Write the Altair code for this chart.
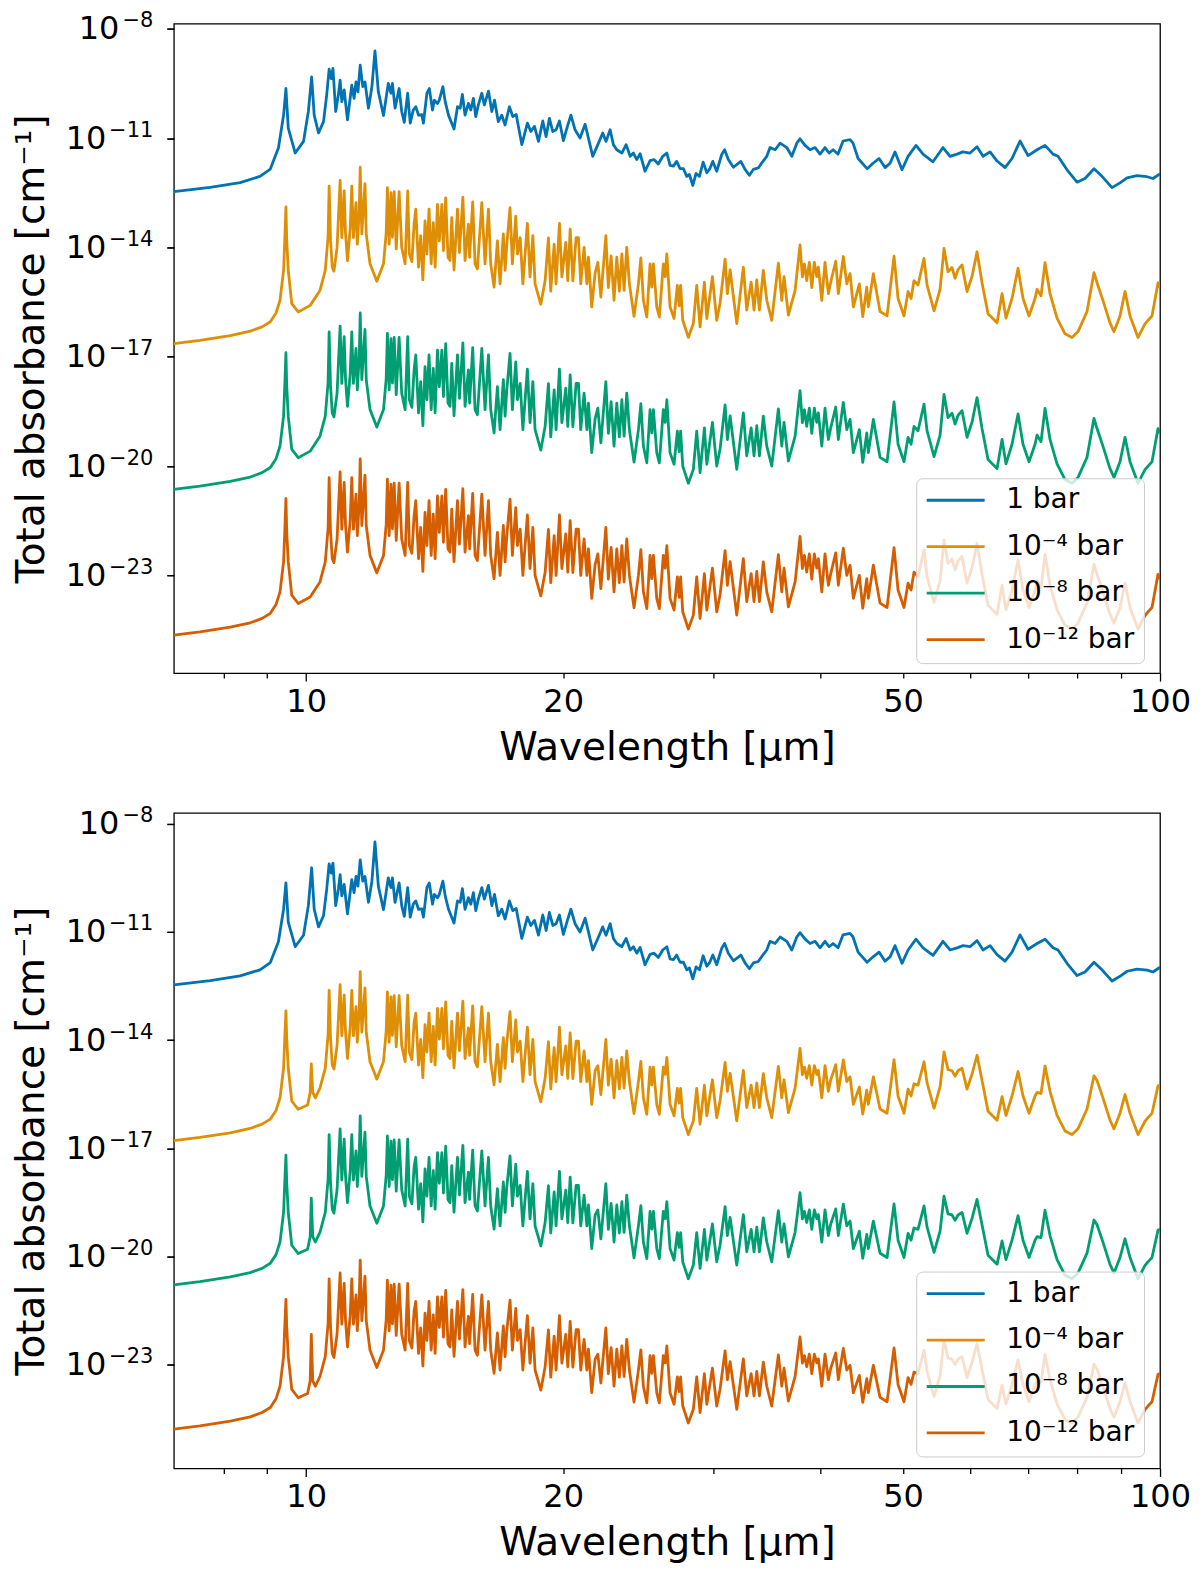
import altair as alt
import pandas as pd

# wavelength grid of the 1 bar curve [um] (same sampling in both panels)
WL_BLUE = [
    7.0, 7.72, 8.37, 8.83, 9.08, 9.28, 9.41, 9.47, 9.53, 9.71,
    9.93, 10.06, 10.15, 10.22, 10.34, 10.48, 10.57, 10.64, 10.70, 10.75,
    10.83, 10.91, 10.96, 11.01, 11.08, 11.18, 11.31, 11.38, 11.44, 11.50,
    11.57, 11.65, 11.72, 11.83, 11.94, 12.04, 12.15, 12.32, 12.48, 12.57,
    12.62, 12.71, 12.85, 12.94, 13.03, 13.15, 13.24, 13.35, 13.44, 13.54,
    13.66, 13.72, 13.85, 13.94, 14.06, 14.13, 14.25, 14.32, 14.46, 14.55,
    14.68, 14.90, 15.04, 15.15, 15.24, 15.35, 15.49, 15.59, 15.70, 15.80,
    15.91, 16.06, 16.17, 16.35, 16.50, 16.62, 16.79, 16.95, 17.10, 17.30,
    17.46, 17.62, 17.89, 18.16, 18.33, 18.51, 18.71, 18.93, 19.10, 19.27,
    19.45, 19.62, 19.80, 20.01, 20.23, 20.42, 20.65, 20.93, 21.22, 21.41,
    21.66, 21.96, 22.25, 22.45, 22.70, 22.90, 23.11, 23.43, 23.70, 23.96,
    24.17, 24.39, 24.61, 24.94, 25.28, 25.55, 25.85, 26.16, 26.45, 26.68,
    26.92, 27.16, 27.41, 27.66, 27.91, 28.11, 28.37, 28.62, 28.88, 29.17,
    29.46, 29.67, 29.94, 30.26, 30.67, 30.91, 31.22, 31.65, 32.29, 32.66,
    33.04, 33.40, 33.85, 34.17, 34.63, 34.94, 35.42, 35.90, 36.55, 37.05,
    37.55, 37.88, 38.40, 38.92, 39.45, 39.98, 40.52, 40.97, 41.41, 41.97,
    42.54, 43.35, 43.70, 44.30, 45.39, 46.12, 46.88, 47.64, 48.29, 48.94,
    49.87, 50.69, 51.79, 52.78, 54.22, 55.70, 56.77, 57.85, 58.79, 59.91,
    61.05, 62.05, 63.23, 64.44, 65.84, 67.09, 68.56, 70.05, 71.78, 73.34,
    74.93, 75.95, 77.82, 79.95, 81.69, 83.69, 85.52, 87.86, 89.77, 91.49,
    93.99, 96.56, 98.12, 100.0,
]

# log10 of total absorbance [cm^-1] at 1 bar
BLUE_TOP = [
    -12.47, -12.35, -12.22, -12.05, -11.85, -11.27, -10.37, -9.64, -10.73, -11.41,
    -11.09, -10.27, -9.32, -10.37, -10.86, -10.55, -9.82, -9.11, -9.37, -9.09,
    -10.27, -9.80, -9.41, -10.00, -9.68, -10.50, -9.55, -9.91, -9.46, -9.73,
    -9.00, -9.59, -9.46, -10.18, -9.60, -8.61, -9.73, -10.38, -9.50, -9.77,
    -9.50, -10.18, -9.64, -10.27, -10.57, -9.77, -10.59, -10.23, -10.14, -10.37,
    -10.36, -10.59, -9.77, -9.64, -10.23, -9.96, -10.05, -9.96, -9.59, -10.00,
    -10.37, -10.75, -10.14, -10.18, -9.80, -10.37, -10.05, -10.23, -9.91, -10.41,
    -10.09, -9.77, -10.09, -9.71, -10.27, -9.96, -10.55, -10.37, -10.64, -10.14,
    -10.41, -10.35, -11.18, -10.59, -10.82, -10.68, -11.09, -10.53, -10.96, -10.46,
    -10.82, -10.77, -10.53, -11.07, -10.68, -10.37, -10.77, -11.00, -10.62, -11.00,
    -11.50, -11.18, -10.86, -11.09, -10.77, -11.18, -11.32, -11.41, -11.18, -11.50,
    -11.41, -11.59, -11.43, -11.91, -11.62, -11.59, -11.71, -11.50, -11.41, -11.75,
    -11.77, -11.64, -11.84, -11.84, -12.05, -12.00, -12.30, -11.97, -12.05, -11.66,
    -11.95, -11.86, -11.64, -11.91, -11.45, -11.32, -11.59, -11.80, -11.64, -11.86,
    -12.02, -11.86, -11.82, -11.68, -11.50, -11.26, -11.32, -11.14, -11.26, -11.50,
    -11.14, -11.02, -11.20, -11.32, -11.26, -11.44, -11.26, -11.41, -11.32, -11.44,
    -11.08, -11.04, -11.14, -11.56, -11.84, -11.69, -11.56, -11.81, -11.69, -11.38,
    -11.87, -11.50, -11.20, -11.44, -11.65, -11.26, -11.50, -11.44, -11.38, -11.41,
    -11.24, -11.50, -11.38, -11.63, -11.81, -11.56, -11.08, -11.48, -11.32, -11.20,
    -11.44, -11.50, -11.87, -12.21, -12.11, -11.84, -12.05, -12.36, -12.23, -12.09,
    -12.03, -12.06, -12.11, -11.98,
]
BLUE_BOT = [
    -12.47, -12.35, -12.22, -12.05, -11.85, -11.27, -10.37, -9.64, -10.73, -11.41,
    -11.09, -10.27, -9.22, -10.37, -10.86, -10.55, -9.82, -9.11, -9.37, -9.09,
    -10.27, -9.80, -9.41, -10.00, -9.68, -10.50, -9.55, -9.91, -9.46, -9.73,
    -9.00, -9.59, -9.46, -10.18, -9.60, -8.50, -9.73, -10.38, -9.50, -9.77,
    -9.50, -10.18, -9.64, -10.27, -10.57, -9.77, -10.59, -10.23, -10.14, -10.37,
    -10.36, -10.59, -9.77, -9.64, -10.23, -9.96, -10.05, -9.96, -9.59, -10.00,
    -10.37, -10.75, -10.14, -10.18, -9.80, -10.37, -10.05, -10.23, -9.91, -10.41,
    -10.09, -9.77, -10.09, -9.71, -10.27, -9.96, -10.55, -10.37, -10.64, -10.14,
    -10.41, -10.35, -11.18, -10.59, -10.82, -10.68, -11.09, -10.53, -10.96, -10.46,
    -10.82, -10.77, -10.53, -11.07, -10.68, -10.37, -10.77, -11.00, -10.62, -11.00,
    -11.50, -11.18, -10.86, -11.09, -10.77, -11.18, -11.32, -11.41, -11.18, -11.50,
    -11.41, -11.59, -11.43, -11.91, -11.62, -11.59, -11.71, -11.50, -11.41, -11.75,
    -11.77, -11.64, -11.84, -11.84, -12.05, -12.00, -12.30, -11.97, -12.05, -11.66,
    -11.95, -11.86, -11.64, -11.91, -11.45, -11.32, -11.59, -11.80, -11.64, -11.86,
    -12.02, -11.86, -11.82, -11.68, -11.50, -11.26, -11.32, -11.14, -11.26, -11.50,
    -11.14, -11.02, -11.20, -11.32, -11.26, -11.44, -11.26, -11.41, -11.32, -11.44,
    -11.08, -11.04, -11.14, -11.56, -11.84, -11.69, -11.56, -11.81, -11.69, -11.38,
    -11.87, -11.50, -11.20, -11.44, -11.65, -11.26, -11.50, -11.44, -11.38, -11.41,
    -11.24, -11.50, -11.38, -11.63, -11.81, -11.56, -11.08, -11.48, -11.32, -11.20,
    -11.44, -11.50, -11.87, -12.21, -12.11, -11.84, -12.05, -12.36, -12.23, -12.09,
    -12.03, -12.06, -12.11, -11.98,
]

# wavelength grid of the low pressure curves, upper panel
WL_TOP = [
    7.00, 7.51, 8.15, 8.60, 8.88, 9.08, 9.22, 9.32, 9.41, 9.44,
    9.47, 9.49, 9.53, 9.62, 9.79, 10.11, 10.38, 10.53, 10.61, 10.64,
    10.68, 10.73, 10.78, 10.87, 10.96, 11.01, 11.08, 11.12, 11.18, 11.26,
    11.31, 11.36, 11.44, 11.48, 11.54, 11.57, 11.62, 11.72, 11.76, 11.88,
    12.10, 12.32, 12.41, 12.45, 12.51, 12.57, 12.62, 12.68, 12.75, 12.85,
    12.94, 13.06, 13.15, 13.21, 13.30, 13.38, 13.44, 13.54, 13.62, 13.70,
    13.78, 13.85, 13.93, 14.01, 14.09, 14.16, 14.25, 14.32, 14.42, 14.48,
    14.57, 14.66, 14.74, 14.81, 14.90, 15.04, 15.12, 15.26, 15.35, 15.49,
    15.54, 15.67, 15.77, 15.87, 16.06, 16.20, 16.35, 16.45, 16.60, 16.75,
    16.87, 17.02, 17.10, 17.18, 17.33, 17.44, 17.60, 17.68, 17.81, 17.94,
    18.16, 18.29, 18.43, 18.54, 18.83, 19.05, 19.22, 19.34, 19.52, 19.62,
    19.80, 19.93, 20.14, 20.25, 20.38, 20.53, 20.71, 20.84, 20.97, 21.16,
    21.32, 21.41, 21.60, 21.80, 21.96, 22.14, 22.44, 22.59, 22.76, 22.94,
    23.11, 23.27, 23.43, 23.57, 23.74, 23.91, 24.21, 24.50, 24.66, 24.83,
    25.06, 25.28, 25.40, 25.51, 25.74, 25.92, 26.20, 26.33, 26.45, 26.68,
    26.97, 27.21, 27.34, 27.45, 27.61, 28.03, 28.41, 28.67, 28.93, 29.27,
    29.46, 29.91, 30.26, 30.53, 30.95, 31.14, 31.37, 31.94, 32.51, 32.81,
    33.20, 33.46, 33.71, 33.95, 34.31, 34.63, 35.10, 35.73, 36.06, 36.28,
    36.71, 37.38, 37.88, 38.12, 38.33, 38.57, 38.84, 39.10, 39.37, 39.63,
    39.80, 40.17, 40.52, 40.89, 41.15, 41.71, 42.00, 42.57, 42.97, 43.35,
    43.74, 44.45, 44.86, 45.35, 45.54, 46.16, 47.00, 47.90, 48.81, 49.34,
    50.14, 50.69, 51.10, 51.51, 52.07, 52.92, 53.35, 54.37, 55.26, 55.85,
    56.46, 57.07, 57.54, 58.00, 58.63, 59.43, 60.24, 61.05, 61.88, 62.89,
    64.44, 65.31, 66.01, 67.09, 68.19, 69.11, 70.24, 71.39, 71.78, 72.55,
    73.34, 74.33, 75.75, 77.40, 78.87, 80.16, 82.13, 83.69, 84.38, 85.75,
    87.38, 88.33, 89.77, 90.99, 92.23, 94.24, 96.03, 96.81, 97.86, 99.46,
    100.0,
]
ORANGE_TOP = [
    -16.64, -16.55, -16.42, -16.30, -16.18, -16.04, -15.80, -15.45, -14.63, -13.80,
    -12.89, -13.80, -14.63, -15.54, -15.77, -15.59, -15.18, -14.63, -13.70, -12.32,
    -13.80, -14.54, -14.65, -14.00, -12.16, -13.73, -12.45, -13.60, -14.36, -13.50,
    -12.32, -13.73, -12.77, -13.91, -13.00, -11.80, -13.63, -12.25, -13.63, -14.45,
    -14.93, -14.45, -13.60, -12.36, -13.91, -12.50, -13.72, -12.47, -14.04, -12.47,
    -14.00, -14.45, -12.45, -14.18, -14.39, -13.36, -12.95, -14.54, -13.68, -14.89,
    -13.27, -14.18, -12.95, -14.45, -13.32, -14.54, -12.82, -13.82, -12.82, -14.09,
    -12.64, -14.27, -14.36, -13.18, -14.62, -12.95, -14.14, -12.62, -14.36, -13.36,
    -14.27, -12.75, -14.45, -14.59, -12.77, -14.45, -12.95, -14.45, -15.09, -13.82,
    -15.00, -13.63, -14.63, -13.91, -12.91, -14.45, -13.14, -14.18, -13.73, -15.00,
    -13.34, -14.81, -13.68, -15.00, -15.56, -14.91, -13.74, -15.20, -13.91, -15.00,
    -13.34, -14.81, -13.86, -14.91, -13.50, -14.92, -13.73, -13.73, -15.00, -14.00,
    -15.00, -14.27, -15.63, -14.70, -14.41, -15.36, -13.68, -15.10, -14.23, -15.45,
    -14.27, -15.20, -14.18, -15.18, -14.00, -15.00, -15.89, -15.00, -14.29, -15.45,
    -15.91, -14.45, -15.09, -14.45, -15.63, -15.91, -14.45, -14.80, -14.18, -15.63,
    -15.95, -15.04, -15.60, -15.04, -16.00, -16.47, -16.09, -15.04, -16.18, -14.95,
    -15.95, -14.80, -16.00, -15.54, -14.32, -15.27, -14.62, -16.09, -14.54, -15.72,
    -14.95, -15.72, -14.89, -15.72, -14.63, -15.45, -16.00, -14.43, -15.45, -14.80,
    -15.86, -15.18, -13.93, -14.81, -14.45, -14.91, -14.41, -15.10, -14.41, -14.80,
    -14.54, -15.45, -14.41, -15.27, -14.95, -14.38, -15.27, -14.25, -15.00, -14.72,
    -15.63, -15.00, -15.90, -15.09, -15.63, -14.72, -15.76, -15.88, -14.24, -15.40,
    -15.88, -15.21, -15.40, -14.91, -15.03, -14.30, -15.03, -15.74, -15.15, -14.03,
    -14.67, -14.55, -14.85, -14.61, -14.48, -15.21, -14.79, -14.12, -14.97, -15.82,
    -16.07, -15.27, -15.94, -15.40, -14.57, -15.40, -15.88, -15.40, -15.15, -15.33,
    -14.42, -15.27, -15.94, -16.37, -16.47, -16.31, -15.76, -14.69, -14.97, -15.46,
    -16.07, -16.31, -15.88, -15.21, -15.88, -16.47, -16.10, -16.00, -15.88, -14.97,
    -15.10,
]
GREEN_TOP = [
    -20.64, -20.55, -20.42, -20.30, -20.18, -20.04, -19.80, -19.45, -18.63, -17.80,
    -16.89, -17.80, -18.63, -19.54, -19.77, -19.59, -19.18, -18.63, -17.70, -16.32,
    -17.80, -18.54, -18.65, -18.00, -16.16, -17.73, -16.45, -17.60, -18.36, -17.50,
    -16.32, -17.73, -16.77, -17.91, -17.00, -15.80, -17.63, -16.25, -17.63, -18.45,
    -18.93, -18.45, -17.60, -16.36, -17.91, -16.50, -17.72, -16.47, -18.04, -16.47,
    -18.00, -18.45, -16.45, -18.18, -18.39, -17.36, -16.95, -18.54, -17.68, -18.89,
    -17.27, -18.18, -16.95, -18.45, -17.32, -18.54, -16.82, -17.82, -16.82, -18.09,
    -16.64, -18.27, -18.36, -17.18, -18.62, -16.95, -18.14, -16.62, -18.36, -17.36,
    -18.27, -16.75, -18.45, -18.59, -16.77, -18.45, -16.95, -18.45, -19.09, -17.82,
    -19.00, -17.63, -18.63, -17.91, -16.91, -18.45, -17.14, -18.18, -17.73, -19.00,
    -17.34, -18.81, -17.68, -19.00, -19.56, -18.91, -17.74, -19.20, -17.91, -19.00,
    -17.34, -18.81, -17.86, -18.91, -17.50, -18.92, -17.73, -17.73, -19.00, -18.00,
    -19.00, -18.27, -19.63, -18.70, -18.41, -19.36, -17.68, -19.10, -18.23, -19.45,
    -18.27, -19.20, -18.18, -19.18, -18.00, -19.00, -19.89, -19.00, -18.29, -19.45,
    -19.91, -18.45, -19.09, -18.45, -19.63, -19.91, -18.45, -18.80, -18.18, -19.63,
    -19.95, -19.04, -19.60, -19.04, -20.00, -20.47, -20.09, -19.04, -20.18, -18.95,
    -19.95, -18.80, -20.00, -19.54, -18.32, -19.27, -18.62, -20.09, -18.54, -19.72,
    -18.95, -19.72, -18.89, -19.72, -18.63, -19.45, -20.00, -18.43, -19.45, -18.80,
    -19.86, -19.18, -17.93, -18.81, -18.45, -18.91, -18.41, -19.10, -18.41, -18.80,
    -18.54, -19.45, -18.41, -19.27, -18.95, -18.38, -19.27, -18.25, -19.00, -18.72,
    -19.63, -19.00, -19.90, -19.09, -19.63, -18.72, -19.76, -19.88, -18.24, -19.40,
    -19.88, -19.21, -19.40, -18.91, -19.03, -18.30, -19.03, -19.74, -19.15, -18.03,
    -18.67, -18.55, -18.85, -18.61, -18.48, -19.21, -18.79, -18.12, -18.97, -19.82,
    -20.07, -19.27, -19.94, -19.40, -18.57, -19.40, -19.88, -19.40, -19.15, -19.33,
    -18.42, -19.27, -19.94, -20.37, -20.47, -20.31, -19.76, -18.69, -18.97, -19.46,
    -20.07, -20.31, -19.88, -19.21, -19.88, -20.47, -20.10, -20.00, -19.88, -18.97,
    -19.10,
]
RED_TOP = [
    -24.64, -24.55, -24.42, -24.30, -24.18, -24.04, -23.80, -23.45, -22.63, -21.80,
    -20.89, -21.80, -22.63, -23.54, -23.77, -23.59, -23.18, -22.63, -21.70, -20.32,
    -21.80, -22.54, -22.65, -22.00, -20.16, -21.73, -20.45, -21.60, -22.36, -21.50,
    -20.32, -21.73, -20.77, -21.91, -21.00, -19.80, -21.63, -20.25, -21.63, -22.45,
    -22.93, -22.45, -21.60, -20.36, -21.91, -20.50, -21.72, -20.47, -22.04, -20.47,
    -22.00, -22.45, -20.45, -22.18, -22.39, -21.36, -20.95, -22.54, -21.68, -22.89,
    -21.27, -22.18, -20.95, -22.45, -21.32, -22.54, -20.82, -21.82, -20.82, -22.09,
    -20.64, -22.27, -22.36, -21.18, -22.62, -20.95, -22.14, -20.62, -22.36, -21.36,
    -22.27, -20.75, -22.45, -22.59, -20.77, -22.45, -20.95, -22.45, -23.09, -21.82,
    -23.00, -21.63, -22.63, -21.91, -20.91, -22.45, -21.14, -22.18, -21.73, -23.00,
    -21.34, -22.81, -21.68, -23.00, -23.56, -22.91, -21.74, -23.20, -21.91, -23.00,
    -21.34, -22.81, -21.86, -22.91, -21.50, -22.92, -21.73, -21.73, -23.00, -22.00,
    -23.00, -22.27, -23.63, -22.70, -22.41, -23.36, -21.68, -23.10, -22.23, -23.45,
    -22.27, -23.20, -22.18, -23.18, -22.00, -23.00, -23.89, -23.00, -22.29, -23.45,
    -23.91, -22.45, -23.09, -22.45, -23.63, -23.91, -22.45, -22.80, -22.18, -23.63,
    -23.95, -23.04, -23.60, -23.04, -24.00, -24.47, -24.09, -23.04, -24.18, -22.95,
    -23.95, -22.80, -24.00, -23.54, -22.32, -23.27, -22.62, -24.09, -22.54, -23.72,
    -22.95, -23.72, -22.89, -23.72, -22.63, -23.45, -24.00, -22.43, -23.45, -22.80,
    -23.86, -23.18, -21.93, -22.81, -22.45, -22.91, -22.41, -23.10, -22.41, -22.80,
    -22.54, -23.45, -22.41, -23.27, -22.95, -22.38, -23.27, -22.25, -23.00, -22.72,
    -23.63, -23.00, -23.90, -23.09, -23.63, -22.72, -23.76, -23.88, -22.24, -23.40,
    -23.88, -23.21, -23.40, -22.91, -23.03, -22.30, -23.03, -23.74, -23.15, -22.03,
    -22.67, -22.55, -22.85, -22.61, -22.48, -23.21, -22.79, -22.12, -22.97, -23.82,
    -24.07, -23.27, -23.94, -23.40, -22.57, -23.40, -23.88, -23.40, -23.15, -23.33,
    -22.42, -23.27, -23.94, -24.37, -24.47, -24.31, -23.76, -22.69, -22.97, -23.46,
    -24.07, -24.31, -23.88, -23.21, -23.88, -24.47, -24.10, -24.00, -23.88, -22.97,
    -23.10,
]

# lower panel: same sampling plus one weak extra line near 10.1 um
WL_BOT = [
    7.00, 7.51, 8.15, 8.60, 8.88, 9.08, 9.22, 9.32, 9.41, 9.44,
    9.47, 9.49, 9.53, 9.62, 9.79, 10.04, 10.11, 10.14, 10.18, 10.25,
    10.38, 10.53, 10.61, 10.64,
    10.68, 10.73, 10.78, 10.87, 10.96, 11.01, 11.08, 11.12, 11.18, 11.26,
    11.31, 11.36, 11.44, 11.48, 11.54, 11.57, 11.62, 11.72, 11.76, 11.88,
    12.10, 12.32, 12.41, 12.45, 12.51, 12.57, 12.62, 12.68, 12.75, 12.85,
    12.94, 13.06, 13.15, 13.21, 13.30, 13.38, 13.44, 13.54, 13.62, 13.70,
    13.78, 13.85, 13.93, 14.01, 14.09, 14.16, 14.25, 14.32, 14.42, 14.48,
    14.57, 14.66, 14.74, 14.81, 14.90, 15.04, 15.12, 15.26, 15.35, 15.49,
    15.54, 15.67, 15.77, 15.87, 16.06, 16.20, 16.35, 16.45, 16.60, 16.75,
    16.87, 17.02, 17.10, 17.18, 17.33, 17.44, 17.60, 17.68, 17.81, 17.94,
    18.16, 18.29, 18.43, 18.54, 18.83, 19.05, 19.22, 19.34, 19.52, 19.62,
    19.80, 19.93, 20.14, 20.25, 20.38, 20.53, 20.71, 20.84, 20.97, 21.16,
    21.32, 21.41, 21.60, 21.80, 21.96, 22.14, 22.44, 22.59, 22.76, 22.94,
    23.11, 23.27, 23.43, 23.57, 23.74, 23.91, 24.21, 24.50, 24.66, 24.83,
    25.06, 25.28, 25.40, 25.51, 25.74, 25.92, 26.20, 26.33, 26.45, 26.68,
    26.97, 27.21, 27.34, 27.45, 27.61, 28.03, 28.41, 28.67, 28.93, 29.27,
    29.46, 29.91, 30.26, 30.53, 30.95, 31.14, 31.37, 31.94, 32.51, 32.81,
    33.20, 33.46, 33.71, 33.95, 34.31, 34.63, 35.10, 35.73, 36.06, 36.28,
    36.71, 37.38, 37.88, 38.12, 38.33, 38.57, 38.84, 39.10, 39.37, 39.63,
    39.80, 40.17, 40.52, 40.89, 41.15, 41.71, 42.00, 42.57, 42.97, 43.35,
    43.74, 44.45, 44.86, 45.35, 45.54, 46.16, 47.00, 47.90, 48.81, 49.34,
    50.14, 50.69, 51.10, 51.51, 52.07, 52.92, 53.35, 54.37, 55.26, 55.85,
    56.46, 57.07, 57.54, 58.00, 58.63, 59.43, 60.24, 61.05, 61.88, 62.89,
    64.44, 65.31, 66.01, 67.09, 68.19, 69.11, 70.24, 71.39, 71.78, 72.55,
    73.34, 74.33, 75.75, 77.40, 78.87, 80.16, 82.13, 83.69, 84.38, 85.75,
    87.38, 88.33, 89.77, 90.99, 92.23, 94.24, 96.03, 96.81, 97.86, 99.46,
    100.0,
]
ORANGE_BOT = [
    -16.79, -16.70, -16.57, -16.45, -16.33, -16.19, -15.95, -15.60, -14.78, -13.95,
    -13.19, -13.95, -14.78, -15.69, -15.92, -15.80, -15.45, -14.66, -15.45, -15.60,
    -15.33, -14.78, -13.85, -12.62,
    -13.95, -14.69, -14.80, -14.15, -12.46, -13.88, -12.75, -13.75, -14.51, -13.65,
    -12.62, -13.88, -13.07, -14.06, -13.15, -12.10, -13.78, -12.55, -13.78, -14.60,
    -15.08, -14.60, -13.75, -12.66, -14.06, -12.80, -13.87, -12.77, -14.19, -12.77,
    -14.15, -14.60, -12.75, -14.33, -14.54, -13.51, -13.25, -14.69, -13.98, -15.04,
    -13.57, -14.33, -13.25, -14.60, -13.62, -14.69, -13.12, -13.97, -13.12, -14.24,
    -12.94, -14.42, -14.51, -13.48, -14.77, -13.25, -14.29, -12.92, -14.51, -13.66,
    -14.42, -13.05, -14.60, -14.74, -13.07, -14.60, -13.25, -14.60, -15.24, -14.12,
    -15.15, -13.93, -14.78, -14.06, -13.21, -14.60, -13.44, -14.33, -14.03, -15.15,
    -13.64, -14.96, -13.98, -15.15, -15.71, -15.06, -14.04, -15.35, -14.21, -15.15,
    -13.64, -14.96, -14.16, -15.06, -13.80, -15.07, -14.03, -14.03, -15.15, -14.30,
    -15.15, -14.57, -15.78, -14.85, -14.71, -15.51, -13.98, -15.25, -14.53, -15.60,
    -14.57, -15.35, -14.48, -15.33, -14.30, -15.15, -16.04, -15.15, -14.59, -15.60,
    -16.06, -14.75, -15.24, -14.75, -15.78, -16.06, -14.75, -14.95, -14.48, -15.78,
    -16.10, -15.34, -15.75, -15.34, -16.15, -16.62, -16.24, -15.34, -16.33, -15.25,
    -16.10, -15.10, -16.15, -15.69, -14.62, -15.42, -14.92, -16.24, -14.84, -15.87,
    -15.25, -15.87, -15.19, -15.87, -14.93, -15.60, -16.15, -14.73, -15.60, -15.10,
    -16.01, -15.33, -14.23, -14.96, -14.75, -15.06, -14.71, -15.25, -14.71, -14.95,
    -14.84, -15.60, -14.71, -15.42, -15.10, -14.68, -15.42, -14.55, -15.15, -15.02,
    -15.78, -15.30, -16.05, -15.39, -15.78, -15.02, -15.91, -16.03, -14.54, -15.55,
    -16.03, -15.36, -15.55, -15.21, -15.25, -14.60, -15.18, -15.89, -15.30, -14.33,
    -14.82, -14.85, -15.00, -14.85, -14.78, -15.36, -14.94, -14.42, -15.12, -15.97,
    -16.22, -15.57, -16.09, -15.55, -14.87, -15.55, -16.03, -15.55, -15.45, -15.48,
    -14.72, -15.42, -16.09, -16.52, -16.62, -16.46, -15.91, -14.99, -15.12, -15.61,
    -16.22, -16.46, -16.03, -15.51, -16.03, -16.62, -16.25, -16.15, -16.03, -15.27,
    -15.25,
]
GREEN_BOT = [
    -20.79, -20.70, -20.57, -20.45, -20.33, -20.19, -19.95, -19.60, -18.78, -17.95,
    -17.19, -17.95, -18.78, -19.69, -19.92, -19.80, -19.45, -18.38, -19.45, -19.60,
    -19.33, -18.78, -17.85, -16.62,
    -17.95, -18.69, -18.80, -18.15, -16.46, -17.88, -16.75, -17.75, -18.51, -17.65,
    -16.62, -17.88, -17.07, -18.06, -17.15, -16.10, -17.78, -16.55, -17.78, -18.60,
    -19.08, -18.60, -17.75, -16.66, -18.06, -16.80, -17.87, -16.77, -18.19, -16.77,
    -18.15, -18.60, -16.75, -18.33, -18.54, -17.51, -17.25, -18.69, -17.98, -19.04,
    -17.57, -18.33, -17.25, -18.60, -17.62, -18.69, -17.12, -17.97, -17.12, -18.24,
    -16.94, -18.42, -18.51, -17.48, -18.77, -17.25, -18.29, -16.92, -18.51, -17.66,
    -18.42, -17.05, -18.60, -18.74, -17.07, -18.60, -17.25, -18.60, -19.24, -18.12,
    -19.15, -17.93, -18.78, -18.06, -17.21, -18.60, -17.44, -18.33, -18.03, -19.15,
    -17.64, -18.96, -17.98, -19.15, -19.71, -19.06, -18.04, -19.35, -18.21, -19.15,
    -17.64, -18.96, -18.16, -19.06, -17.80, -19.07, -18.03, -18.03, -19.15, -18.30,
    -19.15, -18.57, -19.78, -18.85, -18.71, -19.51, -17.98, -19.25, -18.53, -19.60,
    -18.57, -19.35, -18.48, -19.33, -18.30, -19.15, -20.04, -19.15, -18.59, -19.60,
    -20.06, -18.75, -19.24, -18.75, -19.78, -20.06, -18.75, -18.95, -18.48, -19.78,
    -20.10, -19.34, -19.75, -19.34, -20.15, -20.62, -20.24, -19.34, -20.33, -19.25,
    -20.10, -19.10, -20.15, -19.69, -18.62, -19.42, -18.92, -20.24, -18.84, -19.87,
    -19.25, -19.87, -19.19, -19.87, -18.93, -19.60, -20.15, -18.73, -19.60, -19.10,
    -20.01, -19.33, -18.23, -18.96, -18.75, -19.06, -18.71, -19.25, -18.71, -18.95,
    -18.84, -19.60, -18.71, -19.42, -19.10, -18.68, -19.42, -18.55, -19.15, -19.02,
    -19.78, -19.30, -20.05, -19.39, -19.78, -19.02, -19.91, -20.03, -18.54, -19.55,
    -20.03, -19.36, -19.55, -19.21, -19.25, -18.60, -19.18, -19.89, -19.30, -18.33,
    -18.82, -18.85, -19.00, -18.85, -18.78, -19.36, -18.94, -18.42, -19.12, -19.97,
    -20.22, -19.57, -20.09, -19.55, -18.87, -19.55, -20.03, -19.55, -19.45, -19.48,
    -18.72, -19.42, -20.09, -20.52, -20.62, -20.46, -19.91, -18.99, -19.12, -19.61,
    -20.22, -20.46, -20.03, -19.51, -20.03, -20.62, -20.25, -20.15, -20.03, -19.27,
    -19.25,
]
RED_BOT = [
    -24.79, -24.70, -24.57, -24.45, -24.33, -24.19, -23.95, -23.60, -22.78, -21.95,
    -21.19, -21.95, -22.78, -23.69, -23.92, -23.80, -23.45, -22.16, -23.45, -23.60,
    -23.33, -22.78, -21.85, -20.62,
    -21.95, -22.69, -22.80, -22.15, -20.46, -21.88, -20.75, -21.75, -22.51, -21.65,
    -20.62, -21.88, -21.07, -22.06, -21.15, -20.10, -21.78, -20.55, -21.78, -22.60,
    -23.08, -22.60, -21.75, -20.66, -22.06, -20.80, -21.87, -20.77, -22.19, -20.77,
    -22.15, -22.60, -20.75, -22.33, -22.54, -21.51, -21.25, -22.69, -21.98, -23.04,
    -21.57, -22.33, -21.25, -22.60, -21.62, -22.69, -21.12, -21.97, -21.12, -22.24,
    -20.94, -22.42, -22.51, -21.48, -22.77, -21.25, -22.29, -20.92, -22.51, -21.66,
    -22.42, -21.05, -22.60, -22.74, -21.07, -22.60, -21.25, -22.60, -23.24, -22.12,
    -23.15, -21.93, -22.78, -22.06, -21.21, -22.60, -21.44, -22.33, -22.03, -23.15,
    -21.64, -22.96, -21.98, -23.15, -23.71, -23.06, -22.04, -23.35, -22.21, -23.15,
    -21.64, -22.96, -22.16, -23.06, -21.80, -23.07, -22.03, -22.03, -23.15, -22.30,
    -23.15, -22.57, -23.78, -22.85, -22.71, -23.51, -21.98, -23.25, -22.53, -23.60,
    -22.57, -23.35, -22.48, -23.33, -22.30, -23.15, -24.04, -23.15, -22.59, -23.60,
    -24.06, -22.75, -23.24, -22.75, -23.78, -24.06, -22.75, -22.95, -22.48, -23.78,
    -24.10, -23.34, -23.75, -23.34, -24.15, -24.62, -24.24, -23.34, -24.33, -23.25,
    -24.10, -23.10, -24.15, -23.69, -22.62, -23.42, -22.92, -24.24, -22.84, -23.87,
    -23.25, -23.87, -23.19, -23.87, -22.93, -23.60, -24.15, -22.73, -23.60, -23.10,
    -24.01, -23.33, -22.23, -22.96, -22.75, -23.06, -22.71, -23.25, -22.71, -22.95,
    -22.84, -23.60, -22.71, -23.42, -23.10, -22.68, -23.42, -22.55, -23.15, -23.02,
    -23.78, -23.30, -24.05, -23.39, -23.78, -23.02, -23.91, -24.03, -22.54, -23.55,
    -24.03, -23.36, -23.55, -23.21, -23.25, -22.60, -23.18, -23.89, -23.30, -22.33,
    -22.82, -22.85, -23.00, -22.85, -22.78, -23.36, -22.94, -22.42, -23.12, -23.97,
    -24.22, -23.57, -24.09, -23.55, -22.87, -23.55, -24.03, -23.55, -23.45, -23.48,
    -22.72, -23.42, -24.09, -24.52, -24.62, -24.46, -23.91, -22.99, -23.12, -23.61,
    -24.22, -24.46, -24.03, -23.51, -24.03, -24.62, -24.25, -24.15, -24.03, -23.27,
    -23.25,
]

SERIES = ["1 bar", "10⁻⁴ bar", "10⁻⁸ bar", "10⁻¹² bar"]
COLORS = ["#0173b2", "#de8f05", "#029e73", "#d55e00"]

X_LABELLED = [10, 20, 50, 100]
X_MINOR = [8, 9, 20, 30, 40, 50, 60, 70, 80, 90]
Y_EXP = [-8, -11, -14, -17, -20, -23]
Y_SUP = ["−8", "−11", "−14", "−17", "−20", "−23"]

Y_DOM_TOP = [-25.68, -7.86]
Y_DOM_BOT = [-25.88, -7.70]

Y_TICKS = [10.0 ** e for e in Y_EXP]


def table(parts):
    rows = []
    for name, wl, logv in parts:
        assert len(wl) == len(logv), (name, len(wl), len(logv))
        for w, v in zip(wl, logv):
            rows.append({"wl": w, "absorbance": 10.0 ** v, "pressure": name})
    return pd.DataFrame(rows)


# exponent text drawn as a raised, smaller second label column
sup_expr = "''"
for e, t in zip(reversed(Y_EXP), reversed(Y_SUP)):
    sup_expr = f"abs(log(datum.value) / LN10 - ({e})) < 0.01 ? '{t}' : ({sup_expr})"

tick_style = dict(tickWidth=1.3, tickColor="black", domain=False, grid=False, labelColor="black")


def panel(df, ydom, h, legend_y):
    xs = alt.Scale(type="log", domain=[7, 100], nice=False)
    ys = alt.Scale(type="log", domain=[10.0 ** ydom[0], 10.0 ** ydom[1]], nice=False)

    lines = alt.Chart(df).mark_line(strokeWidth=2.8, strokeJoin="round", clip=True).encode(
        x=alt.X("wl:Q", scale=xs, axis=alt.Axis(
            values=X_LABELLED, format="d", orient="bottom", tickSize=8,
            tickOpacity={"condition": {"test": "datum.value == 20 || datum.value == 50", "value": 0}, "value": 1},
            labelFontSize=32, labelPadding=5, labelFlush=False, labelOverlap=False,
            title="Wavelength [μm]", titleFontSize=39, titleFontWeight="normal",
            titleColor="black", titleY=55, **tick_style)),
        y=alt.Y("absorbance:Q", scale=ys, axis=alt.Axis(
            values=Y_TICKS, labelExpr="'10'", orient="left", tickSize=7,
            labelFontSize=32,
            labelPadding={"condition": {"test": "datum.value > 1e-9", "value": 48}, "value": 61},
            title="Total absorbance [cm⁻¹]", titleFontSize=39, titleFontWeight="normal",
            titleColor="black", titleX=-122, **tick_style)),
        color=alt.Color("pressure:N", scale=alt.Scale(domain=SERIES, range=COLORS),
                        legend=alt.Legend(
                            title=None, orient="none", legendX=743, legendY=legend_y,
                            symbolType="stroke", symbolSize=3364, symbolStrokeWidth=2.8,
                            labelFontSize=28, labelColor="black", labelOffset=20,
                            clipHeight=26, rowPadding=18.5, padding=9,
                            fillColor="rgba(255,255,255,0.8)", strokeColor="#cccccc",
                            cornerRadius=6)),
    )

    minor = alt.Chart(pd.DataFrame({"wl": X_MINOR})).mark_point(opacity=0).encode(
        x=alt.X("wl:Q", scale=xs, axis=alt.Axis(
            values=X_MINOR, orient="bottom", tickSize=5, labels=False, title=None, **tick_style)),
    )

    sup = alt.Chart(pd.DataFrame({"absorbance": Y_TICKS})).mark_point(opacity=0).encode(
        y=alt.Y("absorbance:Q", scale=ys, axis=alt.Axis(
            values=Y_TICKS, labelExpr=sup_expr, orient="left", tickSize=7,
            labelFontSize=21, labelPadding=14, labelOffset=-8, title=None, **tick_style)),
    )

    return alt.layer(lines, minor, sup).resolve_axis(
        x="independent", y="independent"
    ).properties(width=987, height=h)


top = panel(table([
    (SERIES[0], WL_BLUE, BLUE_TOP),
    (SERIES[1], WL_TOP, ORANGE_TOP),
    (SERIES[2], WL_TOP, GREEN_TOP),
    (SERIES[3], WL_TOP, RED_TOP),
]), Y_DOM_TOP, 650, 455)

bottom = panel(table([
    (SERIES[0], WL_BLUE, BLUE_BOT),
    (SERIES[1], WL_BOT, ORANGE_BOT),
    (SERIES[2], WL_BOT, GREEN_BOT),
    (SERIES[3], WL_BOT, RED_BOT),
]), Y_DOM_BOT, 656, 459)

chart = alt.vconcat(top, bottom, spacing=36).resolve_scale(
    color="independent"
).configure(
    font="DejaVu Sans", padding={"left": 4, "top": 0, "right": 0, "bottom": 0}
).configure_view(
    stroke="black", strokeWidth=1.3
)

chart.save("out.html", embed_options={"renderer": "svg", "actions": False})
